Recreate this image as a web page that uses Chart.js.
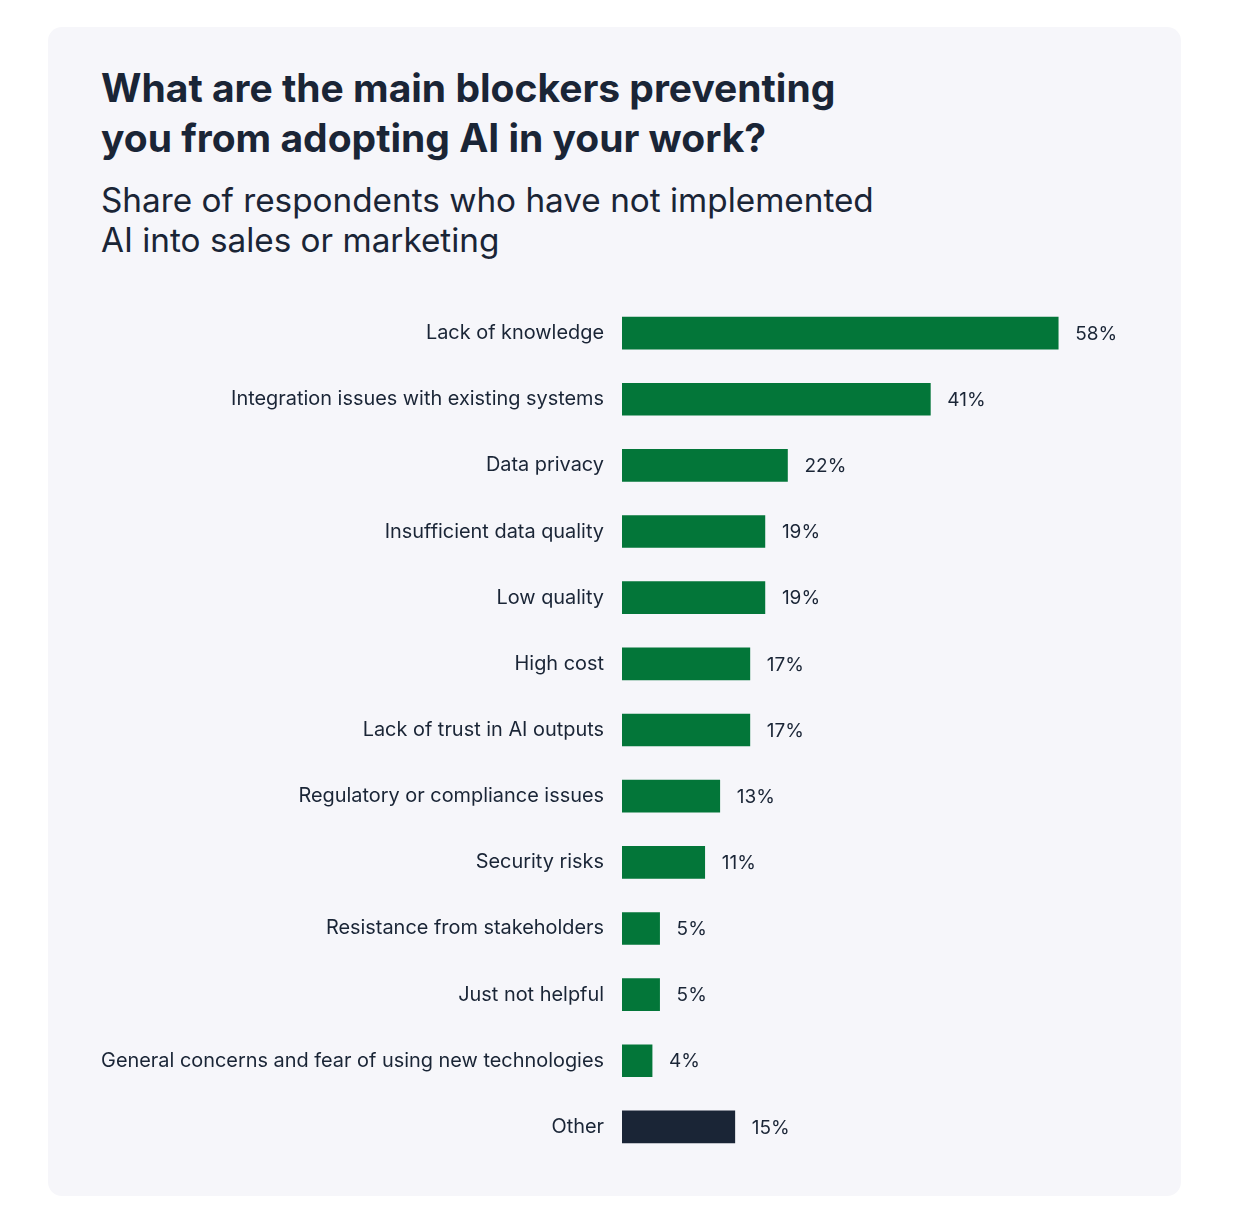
<!DOCTYPE html>
<html>
<head>
<meta charset="utf-8">
<script src="https://cdn.jsdelivr.net/npm/chart.js@4"></script>
<style>
  body { margin: 0; background: #ffffff; font-family: Inter, sans-serif; color: #1a2536; }
  .card { position: absolute; left: 48px; top: 27px; width: 1133px; height: 1169px; background: #f6f6fa; border-radius: 14px; }
  h1 { position: absolute; left: 101px; top: 63px; margin: 0; font-size: 39px; line-height: 50px; font-weight: 700; white-space: nowrap; }
  h2 { position: absolute; left: 101px; top: 180px; margin: 0; font-size: 33.3px; line-height: 40px; font-weight: 400; white-space: nowrap; }
  .wrap { position: absolute; left: 91px; top: 300px; width: 1071px; height: 860px; }
</style>
</head>
<body>
<div class="card"></div>
<h1>What are the main blockers preventing<br>you from adopting AI in your work?</h1>
<h2>Share of respondents who have not implemented<br>AI into sales or marketing</h2>
<div class="wrap"><canvas id="chart"></canvas></div>
<script>
const labels = [
  'Lack of knowledge',
  'Integration issues with existing systems',
  'Data privacy',
  'Insufficient data quality',
  'Low quality',
  'High cost',
  'Lack of trust in AI outputs',
  'Regulatory or compliance issues',
  'Security risks',
  'Resistance from stakeholders',
  'Just not helpful',
  'General concerns and fear of using new technologies',
  'Other'
];
const values = [58, 41, 22, 19, 19, 17, 17, 13, 11, 5, 5, 4, 15];
const colors = labels.map(l => l === 'Other' ? '#1a2536' : '#037639');

// draws "58%" etc. to the right of each bar
const valueLabels = {
  id: 'valueLabels',
  afterDatasetsDraw(chart) {
    const ctx = chart.ctx;
    const meta = chart.getDatasetMeta(0);
    ctx.save();
    ctx.font = '19px Inter';
    ctx.fillStyle = '#1a2536';
    ctx.textBaseline = 'middle';
    ctx.textAlign = 'left';
    meta.data.forEach((bar, i) => {
      ctx.fillText(values[i] + '%', bar.x + 17, bar.y + 1);
    });
    ctx.restore();
  }
};

new Chart(document.getElementById('chart'), {
  type: 'bar',
  data: {
    labels: labels,
    datasets: [{
      data: values,
      backgroundColor: colors,
      barThickness: 32,
      borderWidth: 0
    }]
  },
  options: {
    indexAxis: 'y',
    responsive: true,
    maintainAspectRatio: false,
    animation: false,
    layout: { padding: 0 },
    plugins: { legend: { display: false }, tooltip: { enabled: false } },
    scales: {
      x: { display: false, min: 0, max: 71.8 },
      y: {
        grid: { display: false, drawTicks: false },
        border: { display: false },
        afterFit: function (scale) {
          scale.width = 531;
          // no extra top/bottom room for the first and last label
          scale.paddingTop = 0;
          scale.paddingBottom = 0;
        },
        ticks: { padding: 18, color: '#1a2536', font: { family: 'Inter', size: 19.9 } }
      }
    }
  },
  plugins: [valueLabels]
});
</script>
</body>
</html>
